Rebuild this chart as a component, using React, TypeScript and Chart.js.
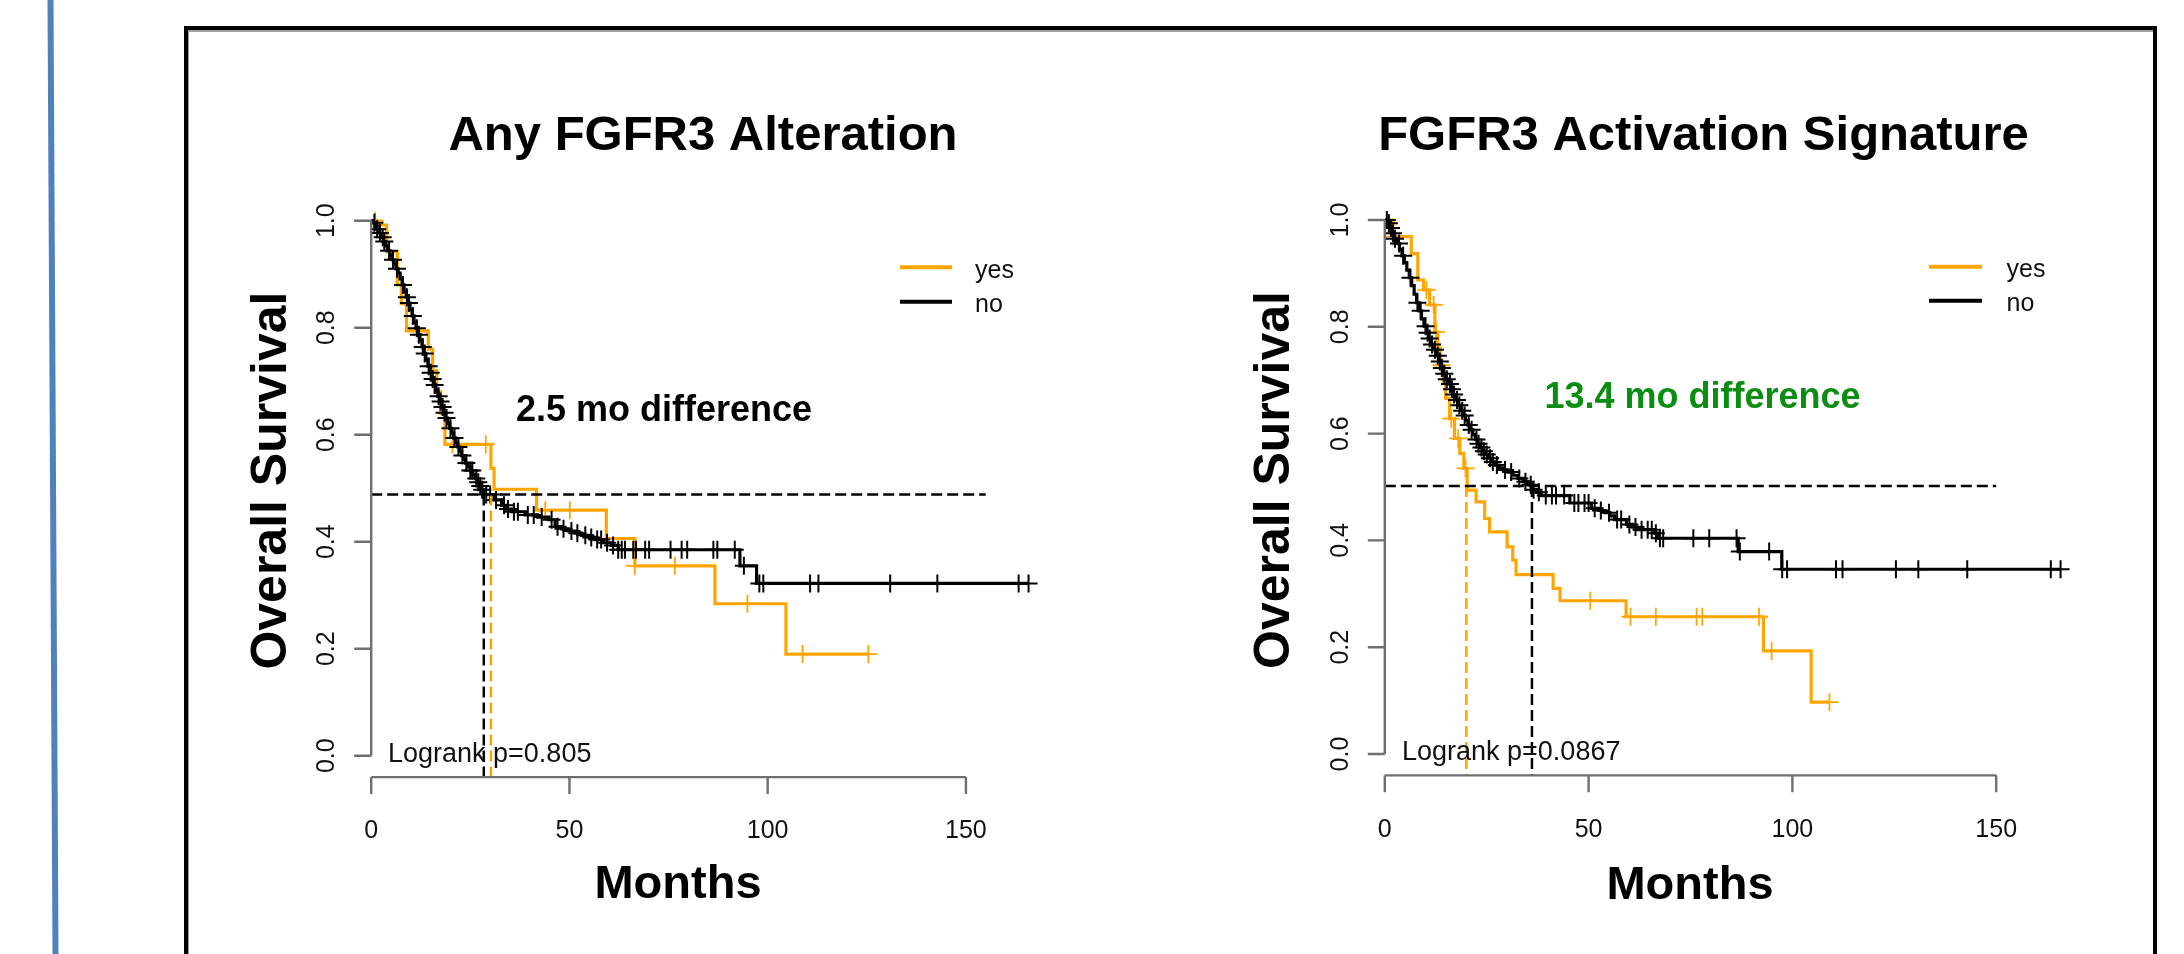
import React, { useEffect, useRef } from "react";
import { Chart, registerables } from "chart.js";

Chart.register(...registerables);

const FONT = '"Liberation Sans", Arial, Helvetica, sans-serif';
const ORANGE = "#FFA500";
const BLACK = "#000000";
const GREEN = "#0b8c12";
const AXIS = "#6f6f6f";

// ---------------- shared axis / legend text ----------------
const xTickValues = [0, 50, 100, 150];
const xTickLabels = ["0", "50", "100", "150"];
const yTickValues = [0, 0.2, 0.4, 0.6, 0.8, 1.0];
const yTickLabels = ["0.0", "0.2", "0.4", "0.6", "0.8", "1.0"];
const legendLabels = ["yes", "no"];
const yAxisTitle = "Overall Survival";
const xAxisTitle = "Months";

// ---------------- left panel: Any FGFR3 Alteration ----------------
const leftTitle = "Any FGFR3 Alteration";
const leftDiffText = "2.5 mo difference";
const leftLogrank = "Logrank p=0.805";
const leftNoTimes = [
  0, 0.5, 1.0, 1.5, 2.0, 2.6, 3.1, 3.6, 4.2, 4.7, 5.2, 5.8, 6.3, 6.8, 7.3, 7.8, 8.3, 8.8, 9.3, 9.8,
  10.3, 10.8, 11.3, 11.8, 12.3, 12.8, 13.3, 13.8, 14.3, 14.8, 15.3, 15.8, 16.3, 16.8, 17.3, 17.8,
  18.3, 18.8, 19.3, 19.8, 20.3, 20.8, 21.3, 21.8, 22.3, 22.8, 23.3, 23.8, 24.4, 25.0, 25.6, 26.2,
  26.8, 27.4, 27.9, 28.4, 31.0, 32.9, 34.2, 35.4, 38.8, 42.0, 44.7, 46.4, 48.0, 49.7, 51.5, 53.1,
  55.0, 56.4, 58.5, 60.6, 62.3, 93.0, 97.2, 165.8,
];
const leftNoSurv = [
  1.0, 0.996, 0.99, 0.984, 0.977, 0.969, 0.961, 0.953, 0.944, 0.936, 0.927, 0.918, 0.91, 0.902, 0.891,
  0.88, 0.868, 0.857, 0.846, 0.834, 0.822, 0.81, 0.799, 0.787, 0.776, 0.764, 0.752, 0.74, 0.728, 0.716,
  0.704, 0.693, 0.682, 0.672, 0.662, 0.652, 0.641, 0.631, 0.621, 0.612, 0.603, 0.594, 0.585, 0.577,
  0.569, 0.561, 0.554, 0.547, 0.54, 0.533, 0.526, 0.518, 0.511, 0.504, 0.497, 0.488, 0.478, 0.468,
  0.461, 0.456, 0.45, 0.446, 0.441, 0.428, 0.424, 0.42, 0.416, 0.412, 0.408, 0.404, 0.398, 0.393,
  0.385, 0.355, 0.322, 0.322,
];
const leftNoCensor = [
  0.8, 1.5, 2.2, 2.9, 3.3, 4.5, 5.5, 6.5, 8.0, 9.0, 9.5, 10.5, 11.5, 12.0, 13.0, 13.5, 14.5, 15.0,
  15.5, 16.0, 17.0, 17.5, 18.0, 18.5, 19.0, 20.0, 21.0, 22.0, 23.0, 24.0, 25.0, 25.5, 26.5, 27.0,
  27.5, 28.0, 29.0, 30.0, 31.5, 33.5, 34.5, 36.0, 37.0, 39.5, 41.0, 43.0, 45.5, 47.0, 48.5, 50.5,
  52.0, 54.0, 55.5, 57.0, 58.0, 59.5, 61.0, 62.3, 63.2, 64.0, 66.1, 66.8, 69.1, 70.1, 75.5, 78.3,
  79.7, 86.3, 87.3, 91.7, 94.0, 97.9, 98.9, 110.7, 112.8, 130.9, 142.8, 163.3, 165.8,
];
const leftYesTimes = [
  0, 1.5, 3.9, 6.6, 7.6, 8.9, 14.4, 15.5, 16.5, 17.5, 18.6, 30.2, 31.0, 41.7, 59.3, 66.5, 86.7, 104.6, 125.4,
];
const leftYesSurv = [
  1.0, 0.992, 0.942, 0.88, 0.845, 0.794, 0.76, 0.72, 0.68, 0.64, 0.582, 0.537, 0.498, 0.459, 0.406,
  0.355, 0.284, 0.19, 0.19,
];
const leftYesCensor = [1.0, 20.5, 28.9, 43.9, 50.1, 66.5, 76.6, 94.9, 108.8, 125.4];
const leftMedianLevel = 0.488;
const leftMedianNo = 28.4;
const leftMedianYes = 30.2;
const leftMedianLineEnd = 155;

// ---------------- right panel: FGFR3 Activation Signature ----------------
const rightTitle = "FGFR3 Activation Signature";
const rightDiffText = "13.4 mo difference";
const rightLogrank = "Logrank p=0.0867";
const rightNoTimes = [
  0, 0.6, 1.2, 1.8, 2.4, 3.0, 3.6, 4.2, 4.8, 5.4, 6.0, 6.6, 7.2, 7.8, 8.4, 9.0, 9.6, 10.2, 10.8, 11.4,
  12.0, 12.6, 13.2, 13.8, 14.4, 15.0, 15.6, 16.2, 16.8, 17.4, 18.0, 18.6, 19.2, 19.8, 20.4, 21.0,
  21.6, 22.2, 22.8, 23.4, 24.0, 24.6, 25.4, 26.2, 27.0, 28.0, 29.0, 30.2, 31.4, 32.7, 33.9, 35.1,
  36.1, 37.2, 38.4, 45.4, 50.7, 52.5, 54.0, 55.2, 56.4, 59.3, 60.8, 62.1, 66.2, 67.0, 86.7, 97.4, 165.8,
];
const rightNoSurv = [
  1.0, 0.994, 0.985, 0.975, 0.965, 0.956, 0.945, 0.933, 0.92, 0.906, 0.892, 0.877, 0.861, 0.845, 0.83,
  0.815, 0.801, 0.789, 0.778, 0.767, 0.757, 0.746, 0.735, 0.723, 0.712, 0.702, 0.693, 0.683, 0.673,
  0.663, 0.653, 0.643, 0.634, 0.625, 0.616, 0.607, 0.598, 0.589, 0.581, 0.574, 0.567, 0.561, 0.554,
  0.547, 0.541, 0.536, 0.532, 0.528, 0.522, 0.516, 0.51, 0.504, 0.495, 0.49, 0.484, 0.47, 0.46, 0.456,
  0.452, 0.446, 0.439, 0.43, 0.425, 0.42, 0.4135, 0.404, 0.379, 0.346, 0.346,
];
const rightNoCensor = [
  0.5, 1.0, 1.5, 2.0, 2.5, 3.5, 4.5, 6.3, 8.0, 8.8, 10.0, 10.5, 11.0, 11.6, 12.3, 13.0, 13.5, 14.0,
  14.6, 15.2, 16.0, 16.5, 17.0, 17.7, 18.3, 19.0, 19.6, 20.6, 21.3, 22.5, 23.0, 23.7, 24.3, 25.0,
  25.8, 26.5, 27.5, 29.5, 31.0, 33.0, 34.5, 35.8, 36.5, 37.8, 39.5, 41.0, 42.0, 44.0, 46.5, 47.5,
  49.0, 50.0, 51.5, 53.0, 55.0, 57.0, 58.0, 60.0, 61.5, 63.0, 64.5, 65.5, 66.5, 67.5, 68.3, 75.7,
  79.6, 86.3, 87.1, 94.3, 97.5, 98.7, 110.7, 112.3, 125.4, 130.9, 142.9, 163.4, 165.8,
];
const rightYesTimes = [
  0, 2.0, 6.5, 8.1, 9.5, 11.0, 12.3, 13.0, 13.6, 14.3, 14.9, 15.9, 17.1, 18.4, 19.4, 20.2, 22.4, 24.5,
  25.7, 30.0, 31.4, 32.2, 41.3, 43.0, 59.2, 92.9, 104.6, 109.1,
];
const rightYesSurv = [
  1.0, 0.969, 0.937, 0.888, 0.869, 0.841, 0.79, 0.76, 0.728, 0.697, 0.666, 0.628, 0.591, 0.563, 0.535,
  0.494, 0.472, 0.441, 0.416, 0.388, 0.363, 0.336, 0.31, 0.287, 0.257, 0.193, 0.097, 0.097,
];
const rightYesCensor = [2.0, 10.2, 12.0, 12.6, 13.9, 16.3, 18.0, 19.8, 50.4, 60.3, 66.5, 76.5, 77.9, 91.8, 94.9, 109.1];
const rightMedianLevel = 0.502;
const rightMedianNo = 36.1;
const rightMedianYes = 20.0;
const rightMedianLineEnd = 150;

// ---------------- layout (page pixel coordinates) ----------------
type Layout = {
  left: number; top: number; width: number; height: number;
  pad: { left: number; right: number; top: number; bottom: number };
  xMax: number;
  titleX: number; titleY: number;
  yTitleBaseX: number; yTitleCY: number;
  xTitleX: number; xTitleY: number;
  yTickBaseX: number; xTickBaseY: number;
  logX: number; logY: number;
  diffX: number; diffY: number; diffColor: string;
  legLineX0: number; legLineX1: number; legY: number[]; legTextX: number; legBase: number[];
};

const leftLayout: Layout = {
  left: 190, top: 30, width: 990, height: 920,
  pad: { left: 181.2, right: 134.8, top: 169.3, bottom: 172.9 },
  xMax: 170,
  titleX: 703, titleY: 150,
  yTitleBaseX: 286, yTitleCY: 480.6,
  xTitleX: 678, xTitleY: 898,
  yTickBaseX: 334, xTickBaseY: 838,
  logX: 388, logY: 761.5,
  diffX: 516, diffY: 420.5, diffColor: BLACK,
  legLineX0: 900, legLineX1: 952, legY: [267.3, 301.7], legTextX: 975, legBase: [277.5, 311.5],
};

const rightLayout: Layout = {
  left: 1195, top: 30, width: 955, height: 920,
  pad: { left: 189.8, right: 72.3, top: 168.64, bottom: 174.64 },
  xMax: 170,
  titleX: 1703.5, titleY: 150,
  yTitleBaseX: 1289, yTitleCY: 480,
  xTitleX: 1690, xTitleY: 899,
  yTickBaseX: 1348, xTickBaseY: 837,
  logX: 1402, logY: 760,
  diffX: 1544.4, diffY: 408.3, diffColor: GREEN,
  legLineX0: 1929, legLineX1: 1982, legY: [266.7, 300.7], legTextX: 2006.5, legBase: [276.7, 310.5],
};

type Panel = {
  layout: Layout;
  title: string; diffText: string; logrank: string;
  noTimes: number[]; noSurv: number[]; noCensor: number[];
  yesTimes: number[]; yesSurv: number[]; yesCensor: number[];
  medLevel: number; medNo: number; medYes: number; medEnd: number;
};

const panels: Panel[] = [
  {
    layout: leftLayout, title: leftTitle, diffText: leftDiffText, logrank: leftLogrank,
    noTimes: leftNoTimes, noSurv: leftNoSurv, noCensor: leftNoCensor,
    yesTimes: leftYesTimes, yesSurv: leftYesSurv, yesCensor: leftYesCensor,
    medLevel: leftMedianLevel, medNo: leftMedianNo, medYes: leftMedianYes, medEnd: leftMedianLineEnd,
  },
  {
    layout: rightLayout, title: rightTitle, diffText: rightDiffText, logrank: rightLogrank,
    noTimes: rightNoTimes, noSurv: rightNoSurv, noCensor: rightNoCensor,
    yesTimes: rightYesTimes, yesSurv: rightYesSurv, yesCensor: rightYesCensor,
    medLevel: rightMedianLevel, medNo: rightMedianNo, medYes: rightMedianYes, medEnd: rightMedianLineEnd,
  },
];

const Y_MIN = -0.04;
const Y_MAX = 1.04;
const TICK_LEN = 17;

function curvePoints(times: number[], surv: number[]) {
  return times.map((t, i) => ({ x: t, y: surv[i] }));
}
function survAt(times: number[], surv: number[], t: number) {
  let s = surv[0];
  for (let i = 0; i < times.length; i++) {
    if (times[i] <= t) s = surv[i];
    else break;
  }
  return s;
}
function censorPoints(times: number[], surv: number[], censor: number[]) {
  return censor.map((t) => ({ x: t, y: survAt(times, surv, t) }));
}

const decorPlugin = {
  id: "rDecor",
  afterDraw(chart: any) {
    const cfg = chart.options.plugins.rDecor as { panel: Panel };
    const p = cfg.panel;
    const L = p.layout;
    const ctx: CanvasRenderingContext2D = chart.ctx;
    const xs = chart.scales.x;
    const ys = chart.scales.y;
    const ox = L.left;
    const oy = L.top;
    ctx.save();

    // axes (R style: lines span first to last tick)
    ctx.strokeStyle = AXIS;
    ctx.lineWidth = 2.4;
    ctx.setLineDash([]);
    const axisY = ys.getPixelForValue(Y_MIN);
    const axisX = xs.getPixelForValue(xs.min);
    ctx.beginPath();
    ctx.moveTo(xs.getPixelForValue(xTickValues[0]), axisY);
    ctx.lineTo(xs.getPixelForValue(xTickValues[xTickValues.length - 1]), axisY);
    xTickValues.forEach((v) => {
      const px = xs.getPixelForValue(v);
      ctx.moveTo(px, axisY);
      ctx.lineTo(px, axisY + TICK_LEN);
    });
    ctx.moveTo(axisX, ys.getPixelForValue(yTickValues[0]));
    ctx.lineTo(axisX, ys.getPixelForValue(yTickValues[yTickValues.length - 1]));
    yTickValues.forEach((v) => {
      const py = ys.getPixelForValue(v);
      ctx.moveTo(axisX, py);
      ctx.lineTo(axisX - TICK_LEN, py);
    });
    ctx.stroke();

    // tick labels
    ctx.fillStyle = "#111";
    ctx.font = `25px ${FONT}`;
    ctx.textAlign = "center";
    ctx.textBaseline = "alphabetic";
    xTickValues.forEach((v, i) => {
      ctx.fillText(xTickLabels[i], xs.getPixelForValue(v), L.xTickBaseY - oy);
    });
    yTickValues.forEach((v, i) => {
      ctx.save();
      ctx.translate(L.yTickBaseX - ox, ys.getPixelForValue(v));
      ctx.rotate(-Math.PI / 2);
      ctx.fillText(yTickLabels[i], 0, 0);
      ctx.restore();
    });

    // axis titles
    ctx.fillStyle = BLACK;
    ctx.font = `bold 47px ${FONT}`;
    ctx.fillText(xAxisTitle, L.xTitleX - ox, L.xTitleY - oy);
    ctx.save();
    ctx.font = `bold 50px ${FONT}`;
    ctx.translate(L.yTitleBaseX - ox, L.yTitleCY - oy);
    ctx.rotate(-Math.PI / 2);
    ctx.fillText(yAxisTitle, 0, 0);
    ctx.restore();

    // title
    ctx.font = `bold 49px ${FONT}`;
    ctx.fillText(p.title, L.titleX - ox, L.titleY - oy);

    // difference annotation
    ctx.textAlign = "left";
    ctx.font = `bold 36px ${FONT}`;
    ctx.fillStyle = L.diffColor;
    ctx.fillText(p.diffText, L.diffX - ox, L.diffY - oy);

    // logrank
    ctx.fillStyle = "#111";
    ctx.font = `27px ${FONT}`;
    ctx.fillText(p.logrank, L.logX - ox, L.logY - oy);

    // legend
    const legColors = [ORANGE, BLACK];
    legendLabels.forEach((lab, i) => {
      ctx.strokeStyle = legColors[i];
      ctx.lineWidth = 4;
      ctx.beginPath();
      ctx.moveTo(L.legLineX0 - ox, L.legY[i] - oy);
      ctx.lineTo(L.legLineX1 - ox, L.legY[i] - oy);
      ctx.stroke();
      ctx.fillStyle = "#111";
      ctx.font = `25px ${FONT}`;
      ctx.fillText(lab, L.legTextX - ox, L.legBase[i] - oy);
    });

    ctx.restore();
  },
};

function KMPanel({ panel }: { panel: Panel }) {
  const ref = useRef<HTMLCanvasElement | null>(null);
  const L = panel.layout;
  useEffect(() => {
    const canvas = ref.current;
    if (!canvas) return;
    const dash = [11, 5];
    const chart = new Chart(canvas, {
      type: "line",
      data: {
        datasets: [
          {
            data: [{ x: 0, y: panel.medLevel }, { x: panel.medEnd, y: panel.medLevel }],
            borderColor: BLACK, borderWidth: 2.5, borderDash: dash, pointRadius: 0,
          },
          {
            data: [{ x: panel.medNo, y: panel.medLevel }, { x: panel.medNo, y: Y_MIN }],
            borderColor: BLACK, borderWidth: 2.5, borderDash: dash, pointRadius: 0,
          },
          {
            data: [{ x: panel.medYes, y: panel.medLevel }, { x: panel.medYes, y: Y_MIN }],
            borderColor: ORANGE, borderWidth: 2.5, borderDash: dash, pointRadius: 0,
          },
          {
            data: censorPoints(panel.noTimes, panel.noSurv, panel.noCensor),
            showLine: false, pointStyle: "cross", pointRadius: 9, pointBorderWidth: 2,
            pointBorderColor: BLACK, borderColor: BLACK,
          },
          {
            data: curvePoints(panel.noTimes, panel.noSurv),
            stepped: "before", borderColor: BLACK, borderWidth: 3.2, pointRadius: 0,
          },
          {
            data: censorPoints(panel.yesTimes, panel.yesSurv, panel.yesCensor),
            showLine: false, pointStyle: "cross", pointRadius: 9, pointBorderWidth: 1.8,
            pointBorderColor: ORANGE, borderColor: ORANGE,
          },
          {
            data: curvePoints(panel.yesTimes, panel.yesSurv),
            stepped: "before", borderColor: ORANGE, borderWidth: 3.2, pointRadius: 0,
          },
        ] as any,
      },
      options: {
        animation: false,
        responsive: false,
        maintainAspectRatio: false,
        events: [],
        layout: { padding: L.pad },
        scales: {
          x: { type: "linear", min: 0, max: L.xMax, display: false },
          y: { type: "linear", min: Y_MIN, max: Y_MAX, display: false },
        },
        plugins: {
          legend: { display: false },
          tooltip: { enabled: false },
          rDecor: { panel },
        } as any,
      },
      plugins: [decorPlugin],
    });
    return () => chart.destroy();
  }, [panel]);
  return (
    <canvas
      ref={ref}
      width={L.width}
      height={L.height}
      style={{ position: "absolute", left: L.left, top: L.top, width: L.width, height: L.height }}
    />
  );
}

export default function App() {
  return (
    <div
      style={{
        position: "fixed", left: 0, top: 0, width: 2184, height: 954,
        overflow: "hidden", background: "#ffffff",
      }}
    >
      <div
        style={{
          position: "absolute", left: 50.2, top: -2, width: 5.6, height: 958,
          background: "#4f81bd", transform: "rotate(-0.3deg)",
        }}
      />
      <div
        style={{
          position: "absolute", left: 183.5, top: 25.7, width: 1973, height: 1000,
          border: "4px solid #000", boxSizing: "border-box",
          boxShadow: "inset 1px 2px 0 #a0a0a0",
        }}
      />
      {panels.map((p, i) => (
        <KMPanel key={i} panel={p} />
      ))}
    </div>
  );
}
